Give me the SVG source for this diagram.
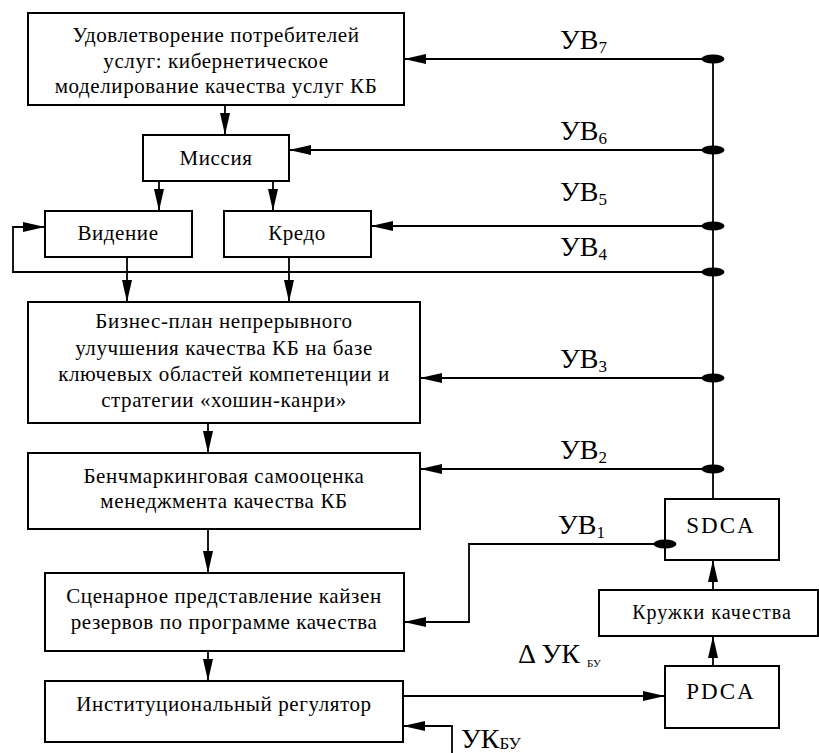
<svg xmlns="http://www.w3.org/2000/svg" width="819" height="753" viewBox="0 0 819 753">
  <style>
    .box { fill: #fff; stroke: #000; stroke-width: 2; }
    .t { font-family: 'Liberation Serif', 'Times New Roman', serif; font-size: 21px; letter-spacing: 0.6px; text-anchor: middle; fill: #000; }
    .s { font-size: 20px; letter-spacing: 1px; }
    .c { font-size: 23px; letter-spacing: 2px; }
    .lbl { font-family: 'Liberation Serif', 'Times New Roman', serif; font-size: 28px; fill: #000; }
    .sub { font-size: 17px; }
    .tiny { font-size: 11px; }
    .ln { fill: none; stroke: #000; stroke-width: 1.8; }
    .dot { fill: #000; }
  </style>
  <defs>
    <marker id="arr" viewBox="0 0 22 10" refX="22" refY="5" markerWidth="22" markerHeight="10" markerUnits="userSpaceOnUse" orient="auto">
      <path d="M0,0 L22,5 L0,10 Z" fill="#000"/>
    </marker>
  </defs>

  <!-- blocks of the quality management chain -->
  <g id="n-top">
    <rect class="box" x="28" y="13" width="376" height="92"/>
    <text class="t" x="216" y="42">Удовлетворение потребителей</text>
    <text class="t" x="216" y="68">услуг: кибернетическое</text>
    <text class="t" x="216" y="93">моделирование качества услуг КБ</text>
  </g>
  <g id="n-mission">
    <rect class="box" x="143" y="135" width="146" height="46"/>
    <text class="t" x="216" y="165">Миссия</text>
  </g>
  <g id="n-vision">
    <rect class="box" x="45" y="211" width="147" height="46"/>
    <text class="t" x="118" y="240">Видение</text>
  </g>
  <g id="n-credo">
    <rect class="box" x="224" y="211" width="147" height="46"/>
    <text class="t" x="297" y="240">Кредо</text>
  </g>
  <g id="n-plan">
    <rect class="box" x="28" y="302" width="392" height="121"/>
    <text class="t" x="224" y="328">Бизнес-план непрерывного</text>
    <text class="t" x="224" y="355">улучшения качества КБ на базе</text>
    <text class="t" x="224" y="381">ключевых областей компетенции и</text>
    <text class="t" x="224" y="407">стратегии «хошин-канри»</text>
  </g>
  <g id="n-bench">
    <rect class="box" x="28" y="453" width="392" height="76"/>
    <text class="t" x="224" y="483">Бенчмаркинговая самооценка</text>
    <text class="t" x="224" y="508">менеджмента качества КБ</text>
  </g>
  <g id="n-scenario">
    <rect class="box" x="45" y="573" width="359" height="78"/>
    <text class="t" x="224" y="603">Сценарное представление кайзен</text>
    <text class="t" x="224" y="629">резервов по программе качества</text>
  </g>
  <g id="n-regulator">
    <rect class="box" x="45" y="681" width="358" height="61"/>
    <text class="t" x="224" y="711">Институциональный регулятор</text>
  </g>
  <g id="n-sdca">
    <rect class="box" x="665" y="499" width="114" height="61"/>
    <text class="t c" x="721" y="533">SDCA</text>
  </g>
  <g id="n-circles">
    <rect class="box" x="599" y="590" width="219" height="46"/>
    <text class="t s" x="712" y="619">Кружки качества</text>
  </g>
  <g id="n-pdca">
    <rect class="box" x="665" y="666" width="114" height="62"/>
    <text class="t c" x="721" y="699">PDCA</text>
  </g>

  <g id="connectors">
    <!-- feedback bus with branch points -->
    <path class="ln" d="M713,59 V499"/>
    <path class="ln" d="M713,59 H404" marker-end="url(#arr)"/>
    <path class="ln" d="M713,150 H289" marker-end="url(#arr)"/>
    <path class="ln" d="M713,226 H371" marker-end="url(#arr)"/>
    <path class="ln" d="M713,272 H13 V227 H45" marker-end="url(#arr)"/>
    <path class="ln" d="M713,378 H420" marker-end="url(#arr)"/>
    <path class="ln" d="M713,469 H420" marker-end="url(#arr)"/>
    <path class="ln" d="M664,544 H469 V622 H404" marker-end="url(#arr)"/>
    <ellipse class="dot" cx="713" cy="59" rx="11.5" ry="4.5"/>
    <ellipse class="dot" cx="713" cy="150" rx="11.5" ry="4.5"/>
    <ellipse class="dot" cx="713" cy="226" rx="11.5" ry="4.5"/>
    <ellipse class="dot" cx="713" cy="272" rx="11.5" ry="4.5"/>
    <ellipse class="dot" cx="713" cy="378" rx="11.5" ry="4.5"/>
    <ellipse class="dot" cx="713" cy="469" rx="11.5" ry="4.5"/>
    <ellipse class="dot" cx="665" cy="544" rx="11.5" ry="4.5"/>

    <!-- main top-down flow -->
    <path class="ln" d="M225,105 V135" marker-end="url(#arr)"/>
    <path class="ln" d="M159,181 V211" marker-end="url(#arr)"/>
    <path class="ln" d="M273,181 V211" marker-end="url(#arr)"/>
    <path class="ln" d="M127,257 V302" marker-end="url(#arr)"/>
    <path class="ln" d="M289,257 V302" marker-end="url(#arr)"/>
    <path class="ln" d="M208,423 V453" marker-end="url(#arr)"/>
    <path class="ln" d="M208,529 V573" marker-end="url(#arr)"/>
    <path class="ln" d="M208,651 V681" marker-end="url(#arr)"/>
    <path class="ln" d="M403,696 H665" marker-end="url(#arr)"/>
    <path class="ln" d="M713,666 V636" marker-end="url(#arr)"/>
    <path class="ln" d="M713,590 V560" marker-end="url(#arr)"/>
    <path class="ln" d="M452,753 V726 H403" marker-end="url(#arr)"/>

    <!-- signal labels -->
    <text class="lbl" x="560" y="49">УВ<tspan class="sub" dy="4">7</tspan></text>
    <text class="lbl" x="560" y="140">УВ<tspan class="sub" dy="4">6</tspan></text>
    <text class="lbl" x="560" y="201">УВ<tspan class="sub" dy="4">5</tspan></text>
    <text class="lbl" x="560" y="256">УВ<tspan class="sub" dy="4">4</tspan></text>
    <text class="lbl" x="560" y="368">УВ<tspan class="sub" dy="4">3</tspan></text>
    <text class="lbl" x="560" y="459">УВ<tspan class="sub" dy="4">2</tspan></text>
    <text class="lbl" x="558" y="534">УВ<tspan class="sub" dy="4">1</tspan></text>
    <text class="lbl" x="518" y="663">Δ УК <tspan class="tiny" dy="4">БУ</tspan></text>
    <text class="lbl" x="461" y="748">УК<tspan class="sub" dy="1">БУ</tspan></text>
  </g>
</svg>
